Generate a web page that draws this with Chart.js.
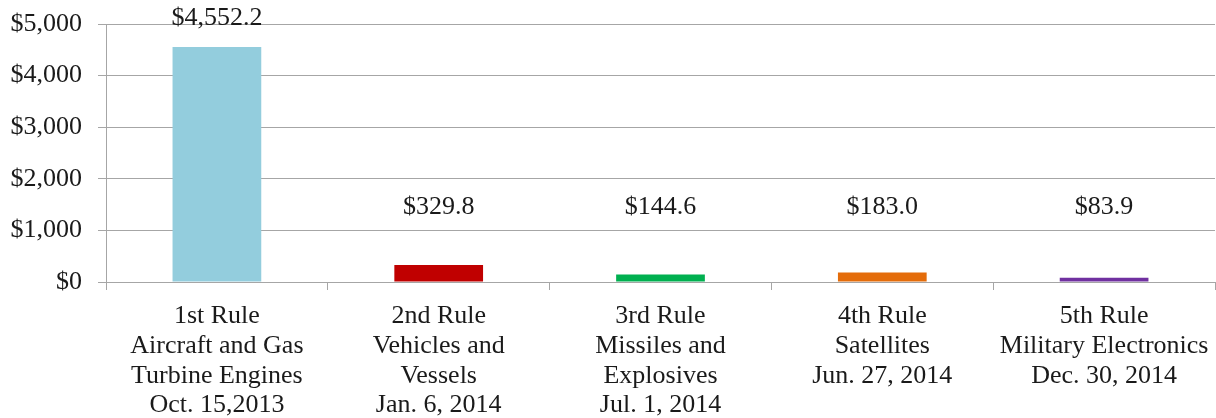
<!DOCTYPE html>
<html>
<head>
<meta charset="utf-8">
<script src="https://cdn.jsdelivr.net/npm/chart.js@4.4.0/dist/chart.umd.min.js"></script>
<style>
  html, body { margin: 0; padding: 0; background: #fff; }
  #wrap { width: 1216px; height: 418px; }
</style>
</head>
<body>
<div id="wrap"><canvas id="rulesChart"></canvas></div>
<script>
// categories (one array per label line)
const ruleNames = ["1st Rule", "2nd Rule", "3rd Rule", "4th Rule", "5th Rule"];
const ruleLabels = [
  ["1st Rule", "Aircraft and Gas", "Turbine Engines", "Oct. 15,2013"],
  ["2nd Rule", "Vehicles and", "Vessels", "Jan. 6, 2014"],
  ["3rd Rule", "Missiles and", "Explosives", "Jul. 1, 2014"],
  ["4th Rule", "Satellites", "Jun. 27, 2014"],
  ["5th Rule", "Military Electronics", "Dec. 30, 2014"]
];
// values in millions of dollars
const ruleValues = [4552.2, 329.8, 144.6, 183.0, 83.9];
const barColors = ["#93cddd", "#c00000", "#00b050", "#e46c0a", "#7030a0"];

const yMin = 0, yMax = 5000, yStep = 1000;

const FONT = "'Liberation Serif', 'Times New Roman', serif";
const GRID = "#a6a6a6";

function money(v, dec) {
  return "$" + v.toLocaleString("en-US", { minimumFractionDigits: dec, maximumFractionDigits: dec });
}

// value labels: above big bars, otherwise on a common line
const valueLabels = {
  id: "valueLabels",
  afterDatasetsDraw(chart) {
    const ctx = chart.ctx;
    const meta = chart.getDatasetMeta(0);
    const yScale = chart.scales.y;
    ctx.save();
    ctx.font = "26px " + FONT;
    ctx.fillStyle = "#1a1a1a";
    ctx.textAlign = "center";
    ctx.textBaseline = "middle";
    meta.data.forEach((bar, i) => {
      const y = Math.min(bar.y - 29, yScale.getPixelForValue(1450));
      ctx.fillText(money(ruleValues[i], 1), bar.x, y);
    });
    ctx.restore();
  }
};

new Chart(document.getElementById("rulesChart"), {
  type: "bar",
  data: {
    labels: ruleLabels,
    datasets: [{
      label: "Value",
      data: ruleValues,
      backgroundColor: barColors,
      borderWidth: 0,
      categoryPercentage: 1.0,
      barPercentage: 0.4
    }]
  },
  options: {
    responsive: true,
    maintainAspectRatio: false,
    animation: false,
    layout: { padding: { top: 24, right: 1, left: 0, bottom: 0 } },
    plugins: {
      legend: { display: false },
      tooltip: { enabled: false }
    },
    scales: {
      x: {
        grid: {
          display: true,
          offset: true,
          drawOnChartArea: false,
          drawTicks: true,
          tickLength: 8,
          color: GRID
        },
        border: { display: true, color: GRID, width: 1 },
        ticks: {
          color: "#1a1a1a",
          font: { family: FONT, size: 26, lineHeight: 1.15 },
          padding: 11,
          maxRotation: 0,
          autoSkip: false
        },
        afterFit(scale) {
          scale.height = 136;
          scale.paddingLeft = 0;
          scale.paddingRight = 0;
        }
      },
      y: {
        min: yMin,
        max: yMax,
        grid: {
          color: GRID,
          drawTicks: true,
          tickLength: 8
        },
        border: { display: true, color: GRID, width: 1 },
        ticks: {
          stepSize: yStep,
          color: "#1a1a1a",
          font: { family: FONT, size: 26 },
          padding: 16,
          callback: v => money(v, 0)
        },
        afterFit(scale) {
          scale.width = 106;
          scale.paddingTop = 0;
          scale.paddingBottom = 0;
        }
      }
    }
  },
  plugins: [valueLabels]
});
</script>
</body>
</html>
